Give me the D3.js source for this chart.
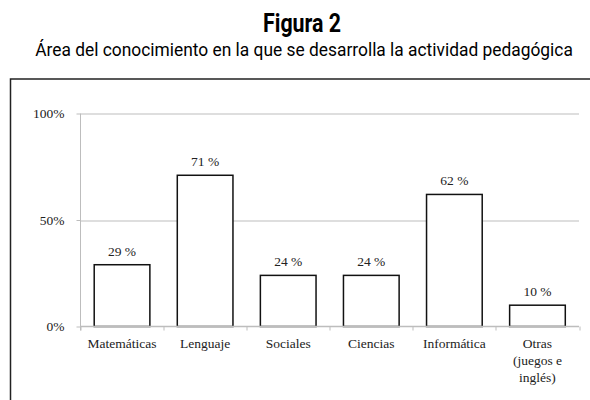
<!DOCTYPE html>
<html>
<head>
<meta charset="utf-8">
<script src="https://cdn.jsdelivr.net/npm/d3@7"></script>
<style>
body { margin:0; background:#fff; }
</style>
</head>
<body>
<svg id="chart"></svg>
<script>
var categories = ["Matemáticas", "Lenguaje", "Sociales", "Ciencias", "Informática", "Otras (juegos e inglés)"];
var catLines = [["Matemáticas"], ["Lenguaje"], ["Sociales"], ["Ciencias"], ["Informática"], ["Otras", "(juegos e", "inglés)"]];
var values = [29, 71, 24, 24, 62, 10];
var yTicks = [0, 50, 100];

var screen = {width:590, height:400};
var margins = {top:113.5, left:80.5, right:11, bottom:73.5};
var graph = {
    width: screen.width - margins.left - margins.right,
    height: screen.height - margins.top - margins.bottom
};

var svg = d3.select("#chart")
    .attr("width", screen.width)
    .attr("height", screen.height);

// titles, squeezed horizontally to look condensed
var squeeze = function(sel, cx, cy, w)
{
    var natural = sel.node().getComputedTextLength();
    sel.attr("transform", "translate(" + cx + "," + cy + ") scale(" + (w / natural) + ",1)");
};

var title = svg.append("text")
    .attr("text-anchor", "middle")
    .attr("font-family", "'Liberation Sans Narrow', 'Roboto', sans-serif")
    .attr("font-weight", "bold")
    .attr("font-size", 25)
    .text("Figura 2");
squeeze(title, 302, 32, 78);

var subtitle = svg.append("text")
    .attr("text-anchor", "middle")
    .attr("font-family", "'Liberation Sans Narrow', 'Roboto', sans-serif")
    .attr("font-size", 18.5)
    .text("Área del conocimiento en la que se desarrolla la actividad pedagógica");
squeeze(subtitle, 304, 56, 538);

// frame (right and bottom run off the picture)
svg.append("path")
    .attr("d", "M10.5,401 L10.5,79 L592,79")
    .attr("fill", "none")
    .attr("stroke", "#222")
    .attr("stroke-width", 1.5);

var x = d3.scaleBand()
    .domain(categories)
    .range([0, graph.width])
    .paddingInner(0.33)
    .paddingOuter(0.165);

var y = d3.scaleLinear()
    .domain([0, 100])
    .range([graph.height, 0]);

var g = svg.append("g")
    .attr("transform", "translate(" + margins.left + "," + margins.top + ")");

// gridlines
g.selectAll(".grid")
    .data(yTicks.filter(function(d) { return d > 0; }))
    .enter()
    .append("line")
    .attr("x1", 0)
    .attr("x2", graph.width)
    .attr("y1", function(d) { return Math.round(y(d)) + 0.5; })
    .attr("y2", function(d) { return Math.round(y(d)) + 0.5; })
    .attr("stroke", "#bdbdbd")
    .attr("stroke-width", 1);

// bars
g.selectAll("rect")
    .data(values)
    .enter()
    .append("rect")
    .attr("x", function(d, i) { return x(categories[i]); })
    .attr("y", function(d) { return y(d); })
    .attr("width", x.bandwidth())
    .attr("height", function(d) { return graph.height - y(d); })
    .attr("fill", "#fff")
    .attr("stroke", "#111")
    .attr("stroke-width", 1.5);

// value labels
g.selectAll(".val")
    .data(values)
    .enter()
    .append("text")
    .attr("x", function(d, i) { return x(categories[i]) + x.bandwidth() / 2; })
    .attr("y", function(d) { return y(d) - 9; })
    .attr("text-anchor", "middle")
    .attr("font-family", "'Liberation Serif', serif")
    .attr("font-size", 13.5)
    .attr("fill", "#222")
    .text(function(d) { return d + " %"; });

// y axis
var yAxis = d3.axisLeft(y)
    .tickValues(yTicks)
    .tickSize(4)
    .tickPadding(12)
    .tickFormat(function(d) { return d + "%"; });

var ya = g.append("g").call(yAxis);
ya.select(".domain").attr("stroke", "#bdbdbd").attr("d", "M0,0V" + (graph.height + 4));
ya.selectAll(".tick line").attr("stroke", "#bdbdbd");
ya.selectAll("text")
    .attr("font-family", "'Liberation Serif', serif")
    .attr("font-size", 13.5)
    .attr("fill", "#222");

// x axis with ticks at category boundaries
var xa = g.append("g")
    .attr("transform", "translate(0," + graph.height + ")");
xa.append("line")
    .attr("x1", 0)
    .attr("x2", graph.width)
    .attr("stroke", "#bdbdbd")
    .attr("stroke-width", 1.5);
var step = x.step();
xa.selectAll(".bt")
    .data(d3.range(categories.length + 1))
    .enter()
    .append("line")
    .attr("x1", function(i) { return Math.round(i * step) + 0.5; })
    .attr("x2", function(i) { return Math.round(i * step) + 0.5; })
    .attr("y1", 0)
    .attr("y2", 4)
    .attr("stroke", "#bdbdbd");

xa.selectAll(".cat")
    .data(categories)
    .enter()
    .append("text")
    .attr("x", function(d) { return x(d) + x.bandwidth() / 2; })
    .attr("y", 21)
    .attr("text-anchor", "middle")
    .attr("font-family", "'Liberation Serif', serif")
    .attr("font-size", 13.5)
    .attr("fill", "#222")
    .each(function(d, i) {
        var t = d3.select(this);
        catLines[i].forEach(function(line, k) {
            t.append("tspan")
                .attr("x", x(d) + x.bandwidth() / 2)
                .attr("dy", k === 0 ? 0 : 17)
                .text(line);
        });
    });
</script>
</body>
</html>
